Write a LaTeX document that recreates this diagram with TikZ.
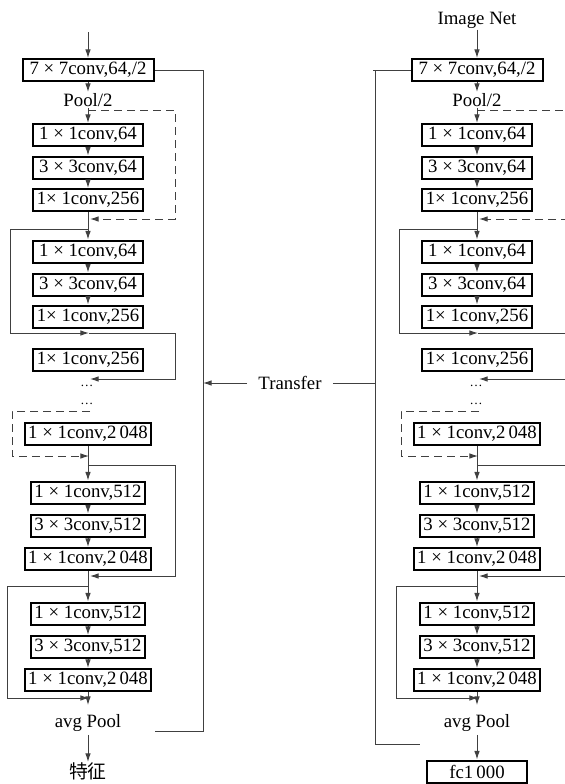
\documentclass[tikz,border=0pt]{standalone}
\usepackage{fontspec}
\setmainfont{Liberation Serif}
\newfontfamily\cjk{Noto Sans CJK SC}
\usetikzlibrary{arrows.meta}
\tikzset{
  box/.style={draw=black, line width=1pt, inner xsep=1.5pt, inner ysep=0pt,
    minimum height=11pt, minimum width=55pt, fill=white,
    font=\fontsize{9.4}{11}\selectfont},
  wbox/.style={box, minimum width=61.5pt},
  lbl/.style={inner sep=0.5pt, font=\fontsize{9.4}{11}\selectfont},
  dotlbl/.style={inner sep=0pt, font=\fontsize{6.5}{7}\selectfont},
  conn/.style={draw=black!75, line width=0.5pt},
  arr/.style={conn, -{Latex[length=4.3pt,width=2.8pt]}},
  dsh/.style={dash pattern=on 4pt off 2.5pt},
}
\newcommand\rescol[3]{%
\begin{scope}[xshift=#2]
\node[box, minimum width=65.5pt] (#1c7) at (88,70) {7 × 7conv,64,/2};
\node[lbl] (#1pool) at (88,100) {Pool/2};
\node[box] (#1a1) at (88,135) {1 × 1conv,64};
\node[box] (#1a2) at (88,167.5) {3 × 3conv,64};
\node[box] (#1a3) at (88,200) {1× 1conv,256};
\node[box] (#1b1) at (88,251.5) {1 × 1conv,64};
\node[box] (#1b2) at (88,284.5) {3 × 3conv,64};
\node[box] (#1b3) at (88,316.5) {1× 1conv,256};
\node[box] (#1c1) at (88,360) {1× 1conv,256};
\node[dotlbl] (#1d1) at (87,386) {…};
\node[dotlbl] (#1d2) at (87,404) {…};
\node[wbox] (#1e) at (88,434) {1 × 1conv,2\,048};
\node[box] (#1f1) at (88,492.5) {1 × 1conv,512};
\node[box] (#1f2) at (88,525.5) {3 × 3conv,512};
\node[wbox] (#1f3) at (88,559) {1 × 1conv,2\,048};
\node[box] (#1g1) at (88,613.5) {1 × 1conv,512};
\node[box] (#1g2) at (88,647) {3 × 3conv,512};
\node[wbox] (#1g3) at (88,680) {1 × 1conv,2\,048};
\node[lbl] (#1avg) at (88,723) {avg Pool};
\coordinate (#1p0) at (88,110);
\coordinate (#1p1) at (90,219);
\coordinate (#1s0) at (88,229);
\coordinate (#1s1) at (89,333);
\coordinate (#1s2) at (90,379);
\coordinate (#1t0) at (90,411);
\coordinate (#1t1) at (89,456);
\coordinate (#1u0) at (88,465);
\coordinate (#1u1) at (90,576);
\coordinate (#1v0) at (88,586);
\coordinate (#1v1) at (89,698);
\draw[arr] (#1c7) -- (#1pool);
\draw[arr] (#1pool) -- (#1a1);
\draw[arr] (#1a1) -- (#1a2);
\draw[arr] (#1a2) -- (#1a3);
\draw[arr] (#1a3) -- (#1b1);
\draw[arr] (#1b1) -- (#1b2);
\draw[arr] (#1b2) -- (#1b3);
\draw[arr, dsh] (#1p0) -- (#3,110) -- (#3,219) -- (#1p1);
\draw[arr] (#1s0) -- (10,229) -- (10,333) -- (#1s1);
\draw[arr] (#1s1) -- (#3,333) -- (#3,379) -- (#1s2);
\draw[arr, dsh] (#1t0) -- (12,411) -- (12,456) -- (#1t1);
\draw[arr] (#1e) -- (#1f1);
\draw[arr] (#1u0) -- (#3,465) -- (#3,576) -- (#1u1);
\draw[arr] (#1f1) -- (#1f2);
\draw[arr] (#1f2) -- (#1f3);
\draw[arr] (#1f3) -- (#1g1);
\draw[arr] (#1v0) -- (7,586) -- (7,698) -- (#1v1);
\draw[arr] (#1g1) -- (#1g2);
\draw[arr] (#1g2) -- (#1g3);
\draw[arr] (#1g3) -- ([yshift=4pt]#1avg.north);
\end{scope}}
\begin{document}
\begin{tikzpicture}[x=0.5pt,y=-0.5pt]
\useasboundingbox (0,0) rectangle (565,784);
\clip (0,0) rectangle (565,784);
\fill[white] (0,0) rectangle (565,784);
\rescol{L}{0pt}{175}
\rescol{R}{194.5pt}{177}
% left column extras
\coordinate (Ltop) at (88,32);
\draw[arr] (Ltop) -- (Lc7);
\node[lbl, font=\cjk\fontsize{9.4}{11}\selectfont, inner sep=0pt] (Lfeat) at (88,771) {特征};
\draw[arr] ([yshift=-1pt]Lavg.south) -- (Lfeat);
\coordinate (Lret) at (155,731);
\draw[conn] (Lret) -- (203,731) |- (Lc7.east);
% transfer
\node[lbl, inner xsep=5.5pt] (tr) at (290,383) {Transfer};
\coordinate (trL) at (203,383);
\coordinate (trR) at (375,383);
\draw[arr] (tr.west) -- (trL);
\draw[conn] (tr.east) -- (trR);
% right column extras
\node[lbl] (img) at (477,20) {Image Net};
\draw[arr] (img) -- (Rc7);
\node[box, minimum width=50pt] (Rfc) at (477,771.5) {fc1\,000};
\draw[arr] ([yshift=-1pt]Ravg.south) -- (Rfc);
\coordinate (Rret) at (420,744);
\draw[conn] (Rc7.west) -- (373,70);
\draw[conn] (375,70) -- (375,744) -- (Rret);
\end{tikzpicture}
\end{document}
